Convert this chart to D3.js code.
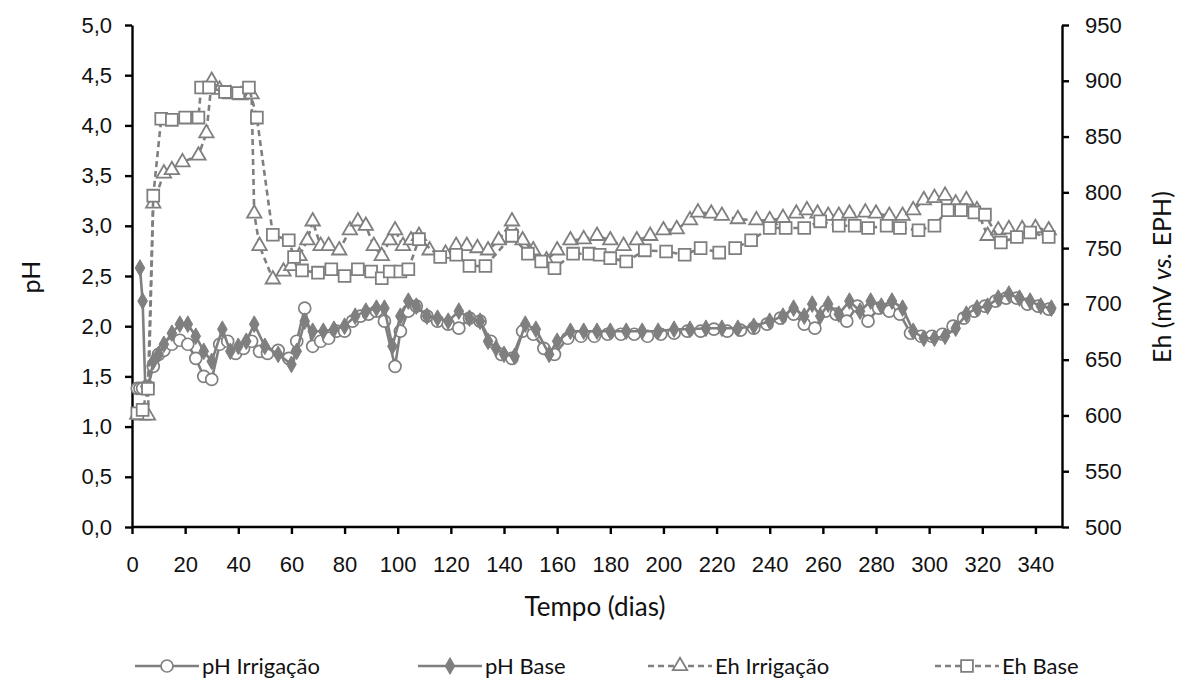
<!DOCTYPE html>
<html>
<head>
<meta charset="utf-8">
<script src="https://cdn.jsdelivr.net/npm/d3@7"></script>
<style>
  body { margin: 0; background: #fff; }
  svg { display: block; font-family: Lato, "Liberation Sans", sans-serif; }
</style>
</head>
<body>
<svg id="chart"></svg>
<script>
const w = 1178;
const h = 678;

// pH Irrigação (circles)
const phIrrDays = [2,3,4,6,8,10,12,15,18,21,24,27,30,33,36,39,42,45,48,51,55,59,62,65,68,71,74,77,80,83,86,89,92,95,99,101,104,107,111,115,119,123,127,131,135,139,143,147,151,155,159,164,169,174,179,184,189,194,199,204,209,214,219,224,229,234,239,244,249,253,257,261,265,269,273,277,281,285,289,293,297,301,305,309,313,317,321,325,329,333,337,341,345];
const phIrr = [1.38,1.38,1.38,1.40,1.60,1.72,1.76,1.82,1.86,1.82,1.68,1.50,1.47,1.82,1.85,1.73,1.78,1.85,1.75,1.73,1.76,1.68,1.85,2.18,1.80,1.85,1.88,1.95,1.95,2.05,2.10,2.12,2.15,2.05,1.60,1.95,2.15,2.20,2.10,2.05,2.02,1.98,2.08,2.05,1.85,1.72,1.68,1.95,1.92,1.78,1.72,1.88,1.90,1.90,1.92,1.92,1.92,1.90,1.92,1.93,1.95,1.95,1.97,1.95,1.96,1.98,2.02,2.08,2.12,2.02,1.98,2.15,2.12,2.05,2.20,2.05,2.18,2.15,2.12,1.93,1.90,1.90,1.92,2.00,2.08,2.15,2.20,2.25,2.28,2.28,2.22,2.20,2.17];

// pH Base (diamonds)
const phBaseDays = [3,4,5,6,8,10,12,15,18,21,24,27,30,34,37,40,43,46,50,55,60,62,65,68,72,76,80,84,88,92,95,98,101,104,107,111,115,119,123,127,131,134,137,140,144,148,152,157,160,165,170,175,180,186,192,198,204,210,216,222,228,234,240,245,249,253,256,259,262,266,270,274,278,282,286,290,294,298,302,306,310,314,318,322,326,330,334,338,342,346];
const phBase = [2.58,2.25,1.40,1.38,1.65,1.72,1.82,1.93,2.02,2.02,1.90,1.75,1.65,1.97,1.75,1.80,1.85,2.02,1.80,1.72,1.62,1.75,2.05,1.95,1.95,1.97,2.00,2.10,2.15,2.18,2.18,1.80,2.10,2.25,2.20,2.10,2.08,2.05,2.15,2.08,2.05,1.85,1.78,1.72,1.70,2.02,1.97,1.72,1.85,1.95,1.95,1.95,1.95,1.95,1.95,1.95,1.97,1.97,1.98,1.98,1.98,2.00,2.05,2.10,2.18,2.10,2.22,2.10,2.22,2.12,2.25,2.15,2.25,2.20,2.25,2.18,1.95,1.88,1.88,1.90,1.98,2.12,2.18,2.20,2.28,2.32,2.28,2.25,2.20,2.18];

// Eh Irrigação (triangles), mV
const ehIrrDays = [2,4,6,8,12,15,19,25,28,30,33,37,41,45,46,48,53,57,60,63,66,68,71,74,78,82,85,88,91,94,97,99,102,105,108,112,118,122,126,130,134,138,143,147,151,156,160,165,170,175,180,185,190,195,200,205,210,213,218,222,228,235,240,245,250,254,258,262,266,270,276,280,285,290,294,298,302,306,310,314,318,322,326,330,335,340,345];
const ehIrr = [601,600,600,790,817,820,827,833,853,900,892,888,887,888,781,752,722,729,734,743,757,774,752,752,748,766,774,770,752,743,757,766,752,757,761,748,745,752,752,750,748,757,774,757,748,739,748,757,758,761,757,752,757,761,766,767,775,782,781,779,776,775,775,777,781,784,781,779,779,781,782,781,779,779,784,793,795,797,790,793,784,761,766,767,767,768,766];

// Eh Base (squares), mV
const ehBaseDays = [2,4,6,8,11,15,20,25,26,29,35,40,44,47,53,59,61,64,70,75,80,85,90,94,97,101,104,108,116,122,127,133,143,149,154,159,166,172,176,180,186,193,201,208,214,221,227,233,240,246,253,259,266,272,277,284,289,296,302,307,312,317,321,327,333,338,345];
const ehBase = [602,605,624,797,866,865,867,867,894,894,890,889,894,867,762,757,742,730,728,731,725,731,729,723,729,729,731,758,742,744,734,734,761,745,738,732,745,745,744,741,738,748,747,744,750,746,750,757,768,768,768,774,770,770,768,770,768,766,770,784,784,782,780,755,760,764,760];

const xTicks = d3.range(0, 341, 20);
const phTicks = d3.range(0, 5.01, 0.5);
const ehTicks = d3.range(500, 951, 50);

const legendLabels = ["pH Irrigação", "pH Base", "Eh Irrigação", "Eh Base"];

const grey = "#7f7f7f";
const plotLeft = 132, plotRight = 1062, plotTop = 25, plotBottom = 527;

const svg = d3.select("#chart")
  .attr("width", w)
  .attr("height", h)
  .attr("viewBox", [0, 0, w, h]);

const x = d3.scaleLinear().domain([0, 350]).range([plotLeft, plotRight]);
const yPh = d3.scaleLinear().domain([0, 5]).range([plotBottom, plotTop]);
const yEh = d3.scaleLinear().domain([500, 950]).range([plotBottom, plotTop]);

const comma = d => d3.format(".1f")(d).replace(".", ",");

function styleAxis(g) {
  g.select(".domain").attr("stroke", "#000").attr("stroke-width", 2.4);
  g.selectAll(".tick line").attr("stroke", "#000").attr("stroke-width", 2.4);
  g.selectAll(".tick text")
    .attr("fill", "#111")
    .attr("font-size", 22);
}

svg.append("g")
  .attr("transform", `translate(0,${plotBottom})`)
  .call(d3.axisBottom(x).tickValues(xTicks).tickSize(7).tickSizeOuter(0).tickPadding(22).tickFormat(d3.format("d")))
  .call(styleAxis)
  .call(g => g.select(".domain").attr("d", `M${plotLeft},0H${plotRight}`));

svg.append("g")
  .attr("transform", `translate(${plotLeft},0)`)
  .call(d3.axisLeft(yPh).tickValues(phTicks).tickSize(7).tickSizeOuter(0).tickPadding(13).tickFormat(comma))
  .call(styleAxis);

svg.append("g")
  .attr("transform", `translate(${plotRight},0)`)
  .call(d3.axisRight(yEh).tickValues(ehTicks).tickSize(7).tickSizeOuter(0).tickPadding(16).tickFormat(d3.format("d")))
  .call(styleAxis);

// axis titles
svg.append("text")
  .attr("transform", `translate(40,277) rotate(-90)`)
  .attr("text-anchor", "middle")
  .attr("font-size", 25)
  .attr("fill", "#111")
  .text("pH");

const ehTitle = svg.append("text")
  .attr("transform", `translate(1171,277) rotate(-90)`)
  .attr("text-anchor", "middle")
  .attr("font-size", 25)
  .attr("fill", "#111");
ehTitle.append("tspan").text("Eh (mV ");
ehTitle.append("tspan").attr("font-style", "italic").text("vs.");
ehTitle.append("tspan").text(" EPH)");

svg.append("text")
  .attr("x", 595)
  .attr("y", 616)
  .attr("text-anchor", "middle")
  .attr("font-size", 26)
  .attr("fill", "#111")
  .text("Tempo (dias)");

// series
const series = [
  { days: phIrrDays, vals: phIrr, y: yPh, dash: null, sym: "circle" },
  { days: phBaseDays, vals: phBase, y: yPh, dash: null, sym: "diamond" },
  { days: ehIrrDays, vals: ehIrr, y: yEh, dash: "6,4", sym: "triangle" },
  { days: ehBaseDays, vals: ehBase, y: yEh, dash: "6,4", sym: "square" }
];

function marker(g, sym) {
  if (sym === "circle") {
    g.append("circle").attr("r", 6).attr("fill", "#fff").attr("stroke", grey).attr("stroke-width", 1.7);
  } else if (sym === "diamond") {
    g.append("path").attr("d", d3.symbol(d3.symbolDiamond, 80)()).attr("fill", grey).attr("stroke", grey).attr("stroke-width", 1);
  } else if (sym === "triangle") {
    g.append("path").attr("d", d3.symbol(d3.symbolTriangle, 90)()).attr("fill", "#fff").attr("stroke", grey).attr("stroke-width", 1.8);
  } else {
    g.append("path").attr("d", d3.symbol(d3.symbolSquare, 140)()).attr("fill", "#fff").attr("stroke", grey).attr("stroke-width", 1.8);
  }
}

series.forEach(s => {
  const pts = s.days.map((d, i) => [x(d), s.y(s.vals[i])]);
  const g = svg.append("g");
  g.append("path")
    .attr("d", d3.line()(pts))
    .attr("fill", "none")
    .attr("stroke", grey)
    .attr("stroke-width", 2.6)
    .attr("stroke-dasharray", s.dash);
  g.selectAll("g.m")
    .data(pts)
    .enter()
    .append("g")
    .attr("class", "m")
    .attr("transform", d => `translate(${d[0]},${d[1]})`)
    .each(function() { marker(d3.select(this), s.sym); });
});

// legend
const legendX = [135, 418, 648, 935];
const legendY = 666;
series.forEach((s, i) => {
  const g = svg.append("g").attr("transform", `translate(${legendX[i]},${legendY})`);
  g.append("line")
    .attr("x1", 0).attr("x2", 64)
    .attr("stroke", grey)
    .attr("stroke-width", 2.6)
    .attr("stroke-dasharray", s.dash);
  marker(g.append("g").attr("transform", "translate(32,0)"), s.sym);
  g.append("text")
    .attr("x", 67)
    .attr("dy", "0.35em")
    .attr("font-size", 22)
    .attr("fill", "#111")
    .text(legendLabels[i]);
});
</script>
</body>
</html>
